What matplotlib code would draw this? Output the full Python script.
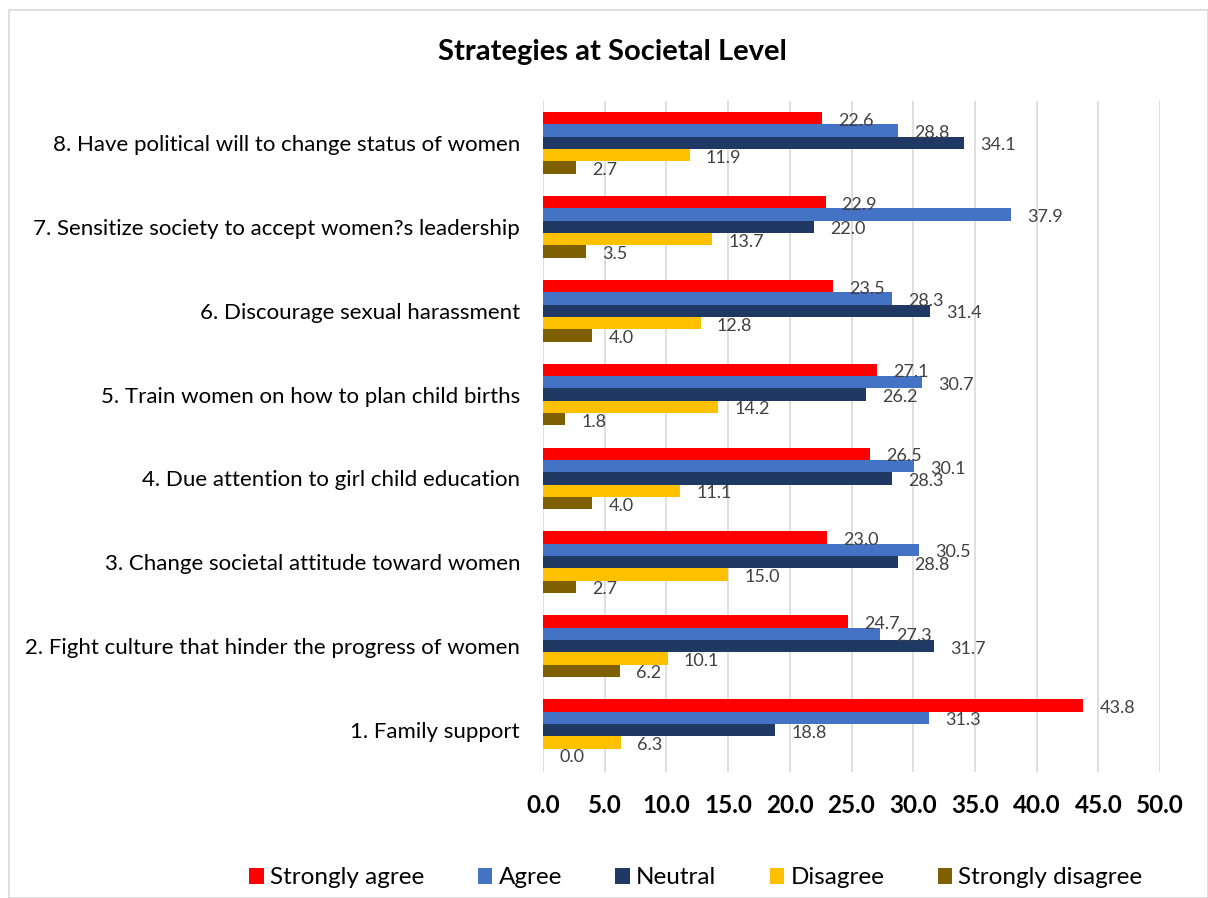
import matplotlib
matplotlib.use("Agg")
import matplotlib.pyplot as plt
from matplotlib.patches import Rectangle
import numpy as np

plt.rcParams['font.family'] = ['Lato', 'DejaVu Sans']

categories = [
    "1. Family support",
    "2. Fight culture that hinder the progress of women",
    "3. Change societal attitude toward women",
    "4. Due attention to girl child education",
    "5. Train women on how to plan child births",
    "6. Discourage sexual harassment",
    "7. Sensitize society to accept women?s leadership",
    "8. Have political will to change status of women",
]
series_names = ["Strongly agree", "Agree", "Neutral", "Disagree", "Strongly disagree"]
strongly_agree = [43.8, 24.7, 23.0, 26.5, 27.1, 23.5, 22.9, 22.6]
agree = [31.3, 27.3, 30.5, 30.1, 30.7, 28.3, 37.9, 28.8]
neutral = [18.8, 31.7, 28.8, 28.3, 26.2, 31.4, 22.0, 34.1]
disagree = [6.3, 10.1, 15.0, 11.1, 14.2, 12.8, 13.7, 11.9]
strongly_disagree = [0.0, 6.2, 2.7, 4.0, 1.8, 4.0, 3.5, 2.7]
xticks = [0, 5, 10, 15, 20, 25, 30, 35, 40, 45, 50]

colors = ["#FF0000", "#4472C4", "#203864", "#FFC000", "#7F6000"]
data = [strongly_agree, agree, neutral, disagree, strongly_disagree]

W, H = 1208, 898
fig = plt.figure(figsize=(W / 100, H / 100), dpi=100)
fig.patches.append(Rectangle((9 / W, 0), (W - 9) / W, (H - 10) / H, transform=fig.transFigure,
                             fill=False, edgecolor="#D9D9D9", linewidth=1.2))

ax = fig.add_axes([543 / W, 1 - 772 / H, (1160 - 543) / W, (772 - 101) / H])
y = np.arange(len(categories))
bw = 0.147
for i, (name, vals, c) in enumerate(zip(series_names, data, colors)):
    offs = (2 - i) * bw
    ax.barh(y + offs, vals, height=bw, color=c, label=name, zorder=3)
    for yy, v in zip(y + offs, vals):
        ax.text(v + 1.3, yy - 0.03, f"{v:.1f}", va="center", ha="left",
                fontsize=13, color="#404040", zorder=4)

ax.set_xlim(0, 50)
ax.set_ylim(-0.5, 7.5)
ax.set_xticks(xticks)
ax.set_xticklabels([f"{t:.1f}" for t in xticks], fontsize=17.5, fontweight="bold")
ax.set_yticks(y)
ax.set_yticklabels(categories, fontsize=16, color="#000000")
ax.tick_params(axis="both", length=0)
ax.tick_params(axis="x", pad=16)
ax.tick_params(axis="y", pad=16.5)
ax.grid(axis="x", color="#D9D9D9", linewidth=1.2, zorder=0)
for s in ax.spines.values():
    s.set_visible(False)

fig.text(612 / W, 1 - 52 / H, "Strategies at Societal Level", ha="center", va="center",
         fontsize=21, fontweight="bold")

handles, labels = ax.get_legend_handles_labels()
fig.legend(handles, labels, loc="center", bbox_to_anchor=(696 / W, 1 - 878 / H), ncol=5,
           frameon=False, fontsize=17.5, handlelength=0.6, handleheight=0.6,
           handletextpad=0.25, columnspacing=2.2)

fig.savefig("out.png", dpi=100)
